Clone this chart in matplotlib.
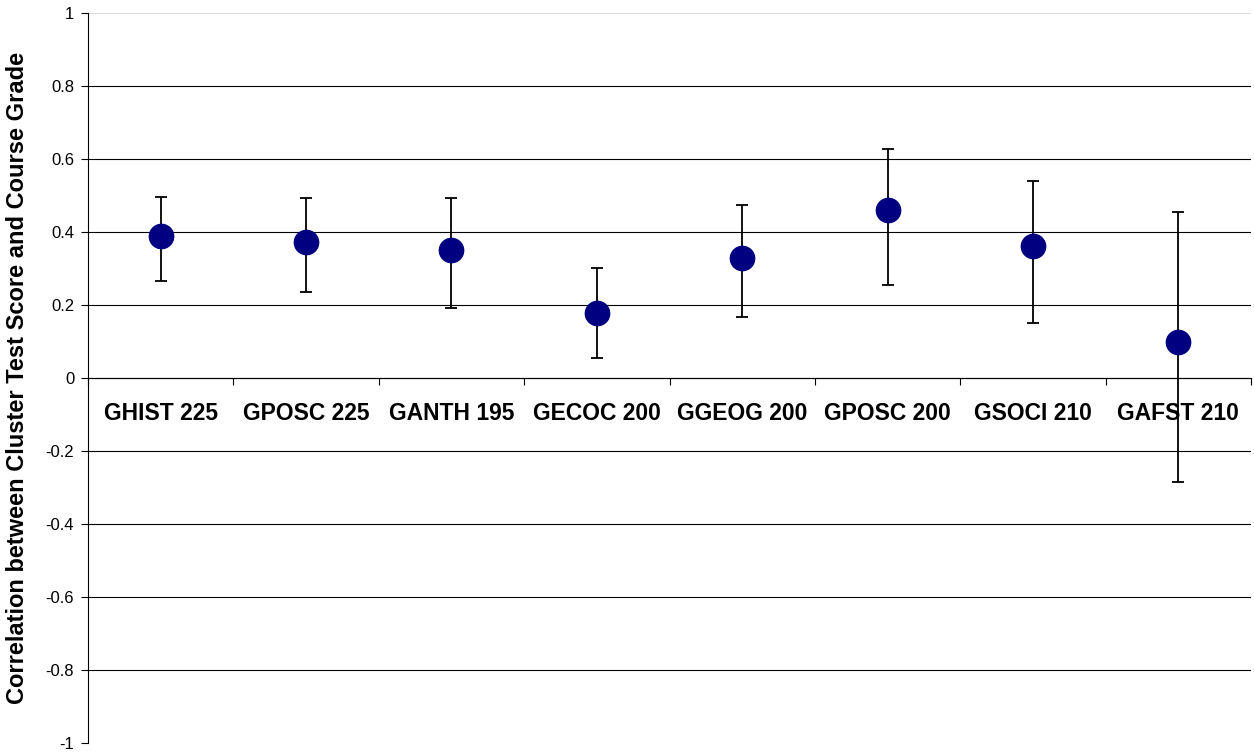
import numpy as np
import matplotlib
matplotlib.use("Agg")
import matplotlib.pyplot as plt
from matplotlib.ticker import FixedLocator

plt.rcParams['font.family'] = ['Liberation Sans', 'DejaVu Sans']

courses = ["GHIST 225", "GPOSC 225", "GANTH 195", "GECOC 200",
           "GGEOG 200", "GPOSC 200", "GSOCI 210", "GAFST 210"]
corr = [0.389, 0.373, 0.351, 0.178, 0.329, 0.460, 0.362, 0.099]
upper = [0.496, 0.493, 0.493, 0.301, 0.474, 0.627, 0.540, 0.455]
lower = [0.266, 0.236, 0.192, 0.055, 0.167, 0.255, 0.151, -0.285]

x = np.arange(1, len(courses) + 1)
corr = np.array(corr)
yerr = [corr - np.array(lower), np.array(upper) - corr]

fig = plt.figure(figsize=(12.54, 7.53), dpi=100)
ax = fig.add_axes([0.0702, 0.0133, 0.9274, 0.9694])

ax.errorbar(x, corr, yerr=yerr, fmt='o', color='#000080', markersize=17.5,
            ecolor='black', elinewidth=1.3, capsize=4.5, capthick=1.3, zorder=3)

ax.set_xlim(0.5, len(courses) + 0.5)
ax.set_ylim(-1, 1)
ax.set_yticks(np.arange(-1, 1.01, 0.2))
ax.set_yticklabels(["-1", "-0.8", "-0.6", "-0.4", "-0.2", "0", "0.2", "0.4", "0.6", "0.8", "1"])
ax.yaxis.grid(True, color='black', linewidth=0.8)
gl = ax.yaxis.get_gridlines()
gl[0].set_color('#dddddd')
gl[-1].set_color('#dddddd')
ax.set_axisbelow(True)

# category boundary ticks on the zero line, labels drawn just below it
ax.xaxis.set_major_locator(FixedLocator(np.arange(0.5, len(courses) + 1, 1)))
ax.set_xticklabels([])
ax.tick_params(axis='x', length=5, width=0.8, direction='out')
ax.tick_params(axis='y', length=5, width=0.8, direction='out', labelsize=12, pad=5)
for xi, name in zip(x, courses):
    ax.annotate(name, (xi, 0), xytext=(0, -25.5), textcoords='offset points',
                ha='center', va='center', fontsize=16.5, fontweight='bold')

ax.spines['top'].set_visible(False)
ax.spines['right'].set_visible(False)
ax.spines['bottom'].set_position(('data', 0))
ax.spines['bottom'].set_linewidth(0.8)
ax.spines['left'].set_linewidth(0.8)

ax.set_ylabel("Correlation between Cluster Test Score and Course Grade",
              fontsize=17, fontweight='bold', labelpad=12)

fig.savefig("out.png", dpi=100)
